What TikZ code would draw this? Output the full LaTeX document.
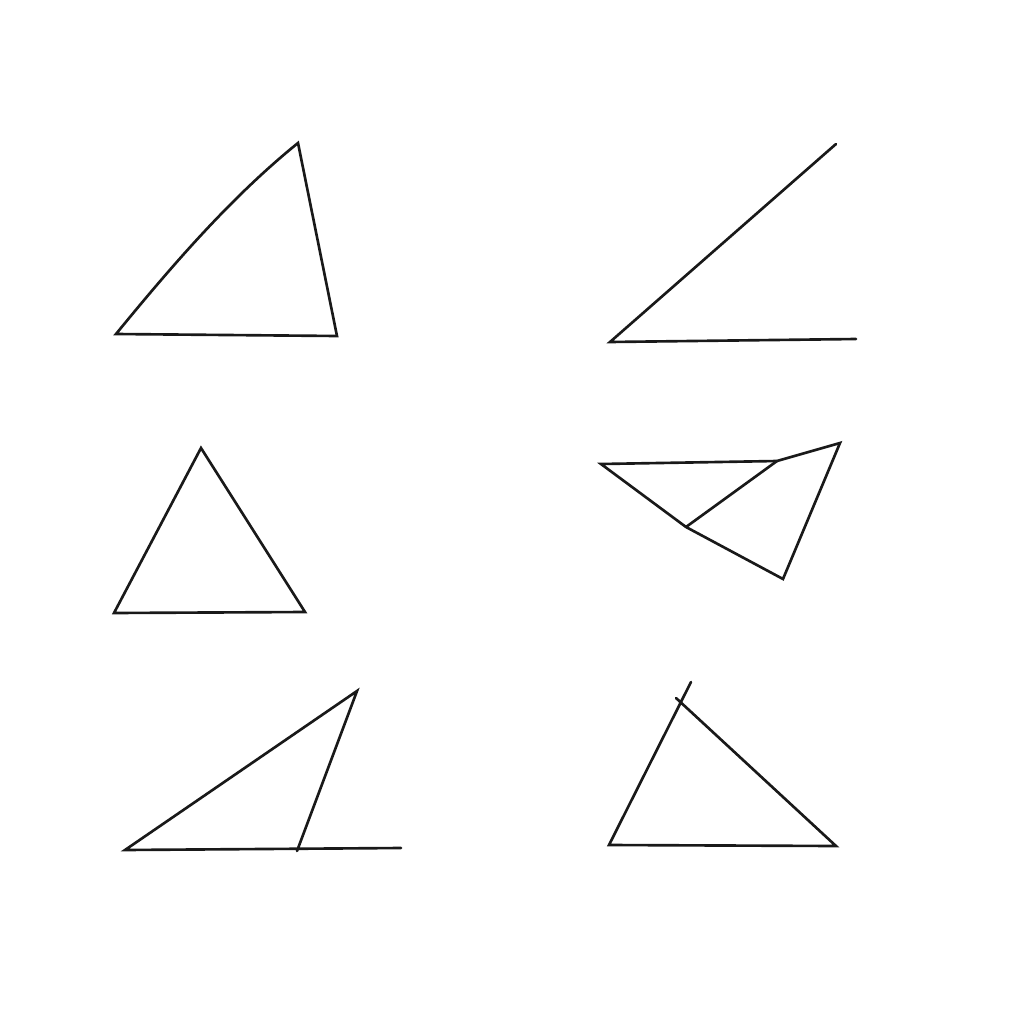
\documentclass[tikz,border=0pt]{standalone}
\begin{document}
\begin{tikzpicture}[x=0.01cm,y=-0.01cm,
  edge/.style={draw=black!90,line width=0.75pt,line join=miter,line cap=round}]
\useasboundingbox (0,0) rectangle (1024,1024);
% top-left triangle
\coordinate (a1) at (116,334);
\coordinate (a2) at (298,143);
\coordinate (a3) at (337,336);
\draw[edge] (a1) .. controls (170,268) and (230,198) .. (a2) -- (a3) -- cycle;
% top-right angle
\coordinate (b0) at (610,342);
\coordinate (b1) at (836,144);
\coordinate (b2) at (856,339);
\draw[edge] (b1) -- (b0) -- (b2);
% middle-left triangle
\coordinate (c1) at (201,448);
\coordinate (c2) at (114,613);
\coordinate (c3) at (305,612);
\draw[edge] (c1) -- (c2) -- (c3) -- cycle;
% middle-right figure
\coordinate (dA) at (601,464);
\coordinate (dB) at (777,461);
\coordinate (dC) at (840,443);
\coordinate (dD) at (783,579);
\coordinate (dE) at (686,527);
\draw[edge] (dA) -- (dB) -- (dC) -- (dD) -- (dE) -- cycle;
\draw[edge] (dE) -- (dB);
% bottom-left
\coordinate (e1) at (125,850);
\coordinate (e2) at (357,691);
\coordinate (e3) at (297,851);
\coordinate (e4) at (401,848);
\draw[edge] (e3) -- (e2) -- (e1) -- (e4);
% bottom-right
\coordinate (f1) at (609,845);
\coordinate (f2) at (691,682);
\coordinate (f3) at (836,846);
\coordinate (f4) at (676,698);
\draw[edge] (f2) -- (f1) -- (f3) -- (f4);
\end{tikzpicture}
\end{document}
